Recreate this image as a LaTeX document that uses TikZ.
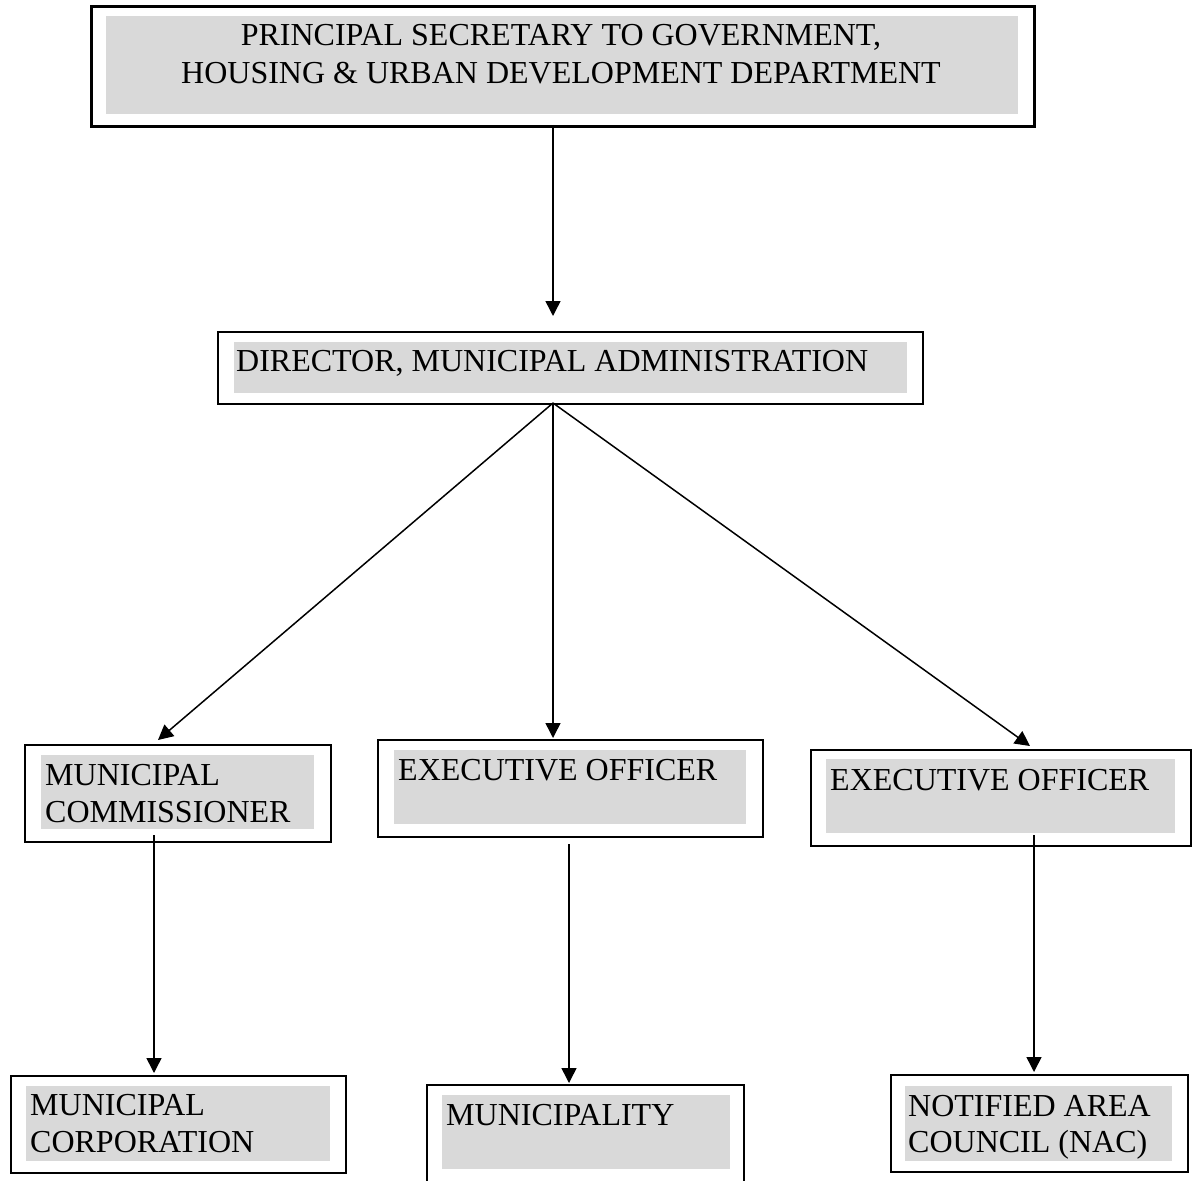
\documentclass[tikz,border=0pt]{standalone}
\usepackage{fontspec}
\setmainfont{Liberation Serif}
\usetikzlibrary{arrows.meta}
\definecolor{boxgray}{RGB}{217,217,217}
\tikzset{
  outerbox/.style={draw=black, line width=2pt, inner sep=0pt, anchor=north west},
  thickbox/.style={outerbox, line width=3pt},
  graybox/.style={fill=boxgray, draw=none, inner sep=0pt, anchor=north west},
  lbl/.style={font=\fontsize{32}{37}\selectfont, inner sep=0pt, align=left, text=black},
  conn/.style={line width=1.5pt, -{Triangle[length=15pt,width=15pt]}},
}
\begin{document}
\begin{tikzpicture}[x=1pt,y=-1pt]
\useasboundingbox (0,0) rectangle (1196,1180);
\fill[white] (0,0) rectangle (1196,1180);

% top box
\node[thickbox, minimum width=943pt, minimum height=120pt] (topbox) at (90,5) {};
\node[graybox, minimum width=912pt, minimum height=98pt] (topfill) at (106,16) {};
\node[lbl, font=\fontsize{32}{38}\selectfont, align=center, anchor=north] (toptext) at (561,24) {PRINCIPAL SECRETARY TO GOVERNMENT,\\HOUSING \& URBAN DEVELOPMENT DEPARTMENT};

% director
\node[outerbox, minimum width=705pt, minimum height=72pt] (dirbox) at (217,331) {};
\node[graybox, minimum width=673pt, minimum height=51pt] (dirfill) at (234,342) {};
\node[lbl, anchor=base west] (dirtext) at (236,371) {DIRECTOR, MUNICIPAL ADMINISTRATION};

% municipal commissioner
\node[outerbox, minimum width=306pt, minimum height=97pt] (mcbox) at (24,744) {};
\node[graybox, minimum width=273pt, minimum height=74pt] (mcfill) at (41,755) {};
\node[lbl, anchor=north west] (mctext) at (45,764) {MUNICIPAL\\COMMISSIONER};

% executive officer 1
\node[outerbox, minimum width=385pt, minimum height=97pt] (eoabox) at (377,739) {};
\node[graybox, minimum width=352pt, minimum height=74pt] (eoafill) at (394,750) {};
\node[lbl, anchor=base west] (eoatext) at (398,780) {EXECUTIVE OFFICER};

% executive officer 2
\node[outerbox, minimum width=380pt, minimum height=96pt] (eobbox) at (810,749) {};
\node[graybox, minimum width=349pt, minimum height=74pt] (eobfill) at (826,759) {};
\node[lbl, anchor=base west] (eobtext) at (830,790) {EXECUTIVE OFFICER};

% municipal corporation
\node[outerbox, minimum width=335pt, minimum height=97pt] (corpbox) at (10,1075) {};
\node[graybox, minimum width=304pt, minimum height=75pt] (corpfill) at (26,1086) {};
\node[lbl, anchor=north west] (corptext) at (30,1094) {MUNICIPAL\\CORPORATION};

% municipality (cut off at the bottom)
\fill[boxgray] (442,1095) rectangle (730,1169);
\draw[line width=2pt] (427,1190) -- (427,1085) -- (744,1085) -- (744,1190);
\coordinate (mtop) at (569,1083);
\node[lbl, anchor=base west] (mtext) at (446,1125) {MUNICIPALITY};

% NAC
\node[outerbox, minimum width=297pt, minimum height=97pt] (nacbox) at (890,1074) {};
\node[graybox, minimum width=267pt, minimum height=75pt] (nacfill) at (905,1086) {};
\node[lbl, font=\fontsize{32}{36}\selectfont, anchor=north west] (nactext) at (908,1095) {NOTIFIED AREA\\COUNCIL (NAC)};

% connector points
\coordinate (p0) at (553,125);
\coordinate (p1) at (553,316);
\coordinate (d0) at (553,403);
\coordinate (mcin) at (158,740);
\coordinate (eoain) at (553,738);
\coordinate (eobin) at (1030,746);
\coordinate (mcout) at (154,835);
\coordinate (corpin) at (154,1073);
\coordinate (eoaout) at (569,844);
\coordinate (eobout) at (1034,835);
\coordinate (nacin) at (1034,1072);

\draw[conn] (p0) -- (p1);
\draw[conn] (d0) -- (mcin);
\draw[conn] (d0) -- (eoain);
\draw[conn] (d0) -- (eobin);
\draw[conn] (mcout) -- (corpin);
\draw[conn] (eoaout) -- (mtop);
\draw[conn] (eobout) -- (nacin);
\end{tikzpicture}
\end{document}
